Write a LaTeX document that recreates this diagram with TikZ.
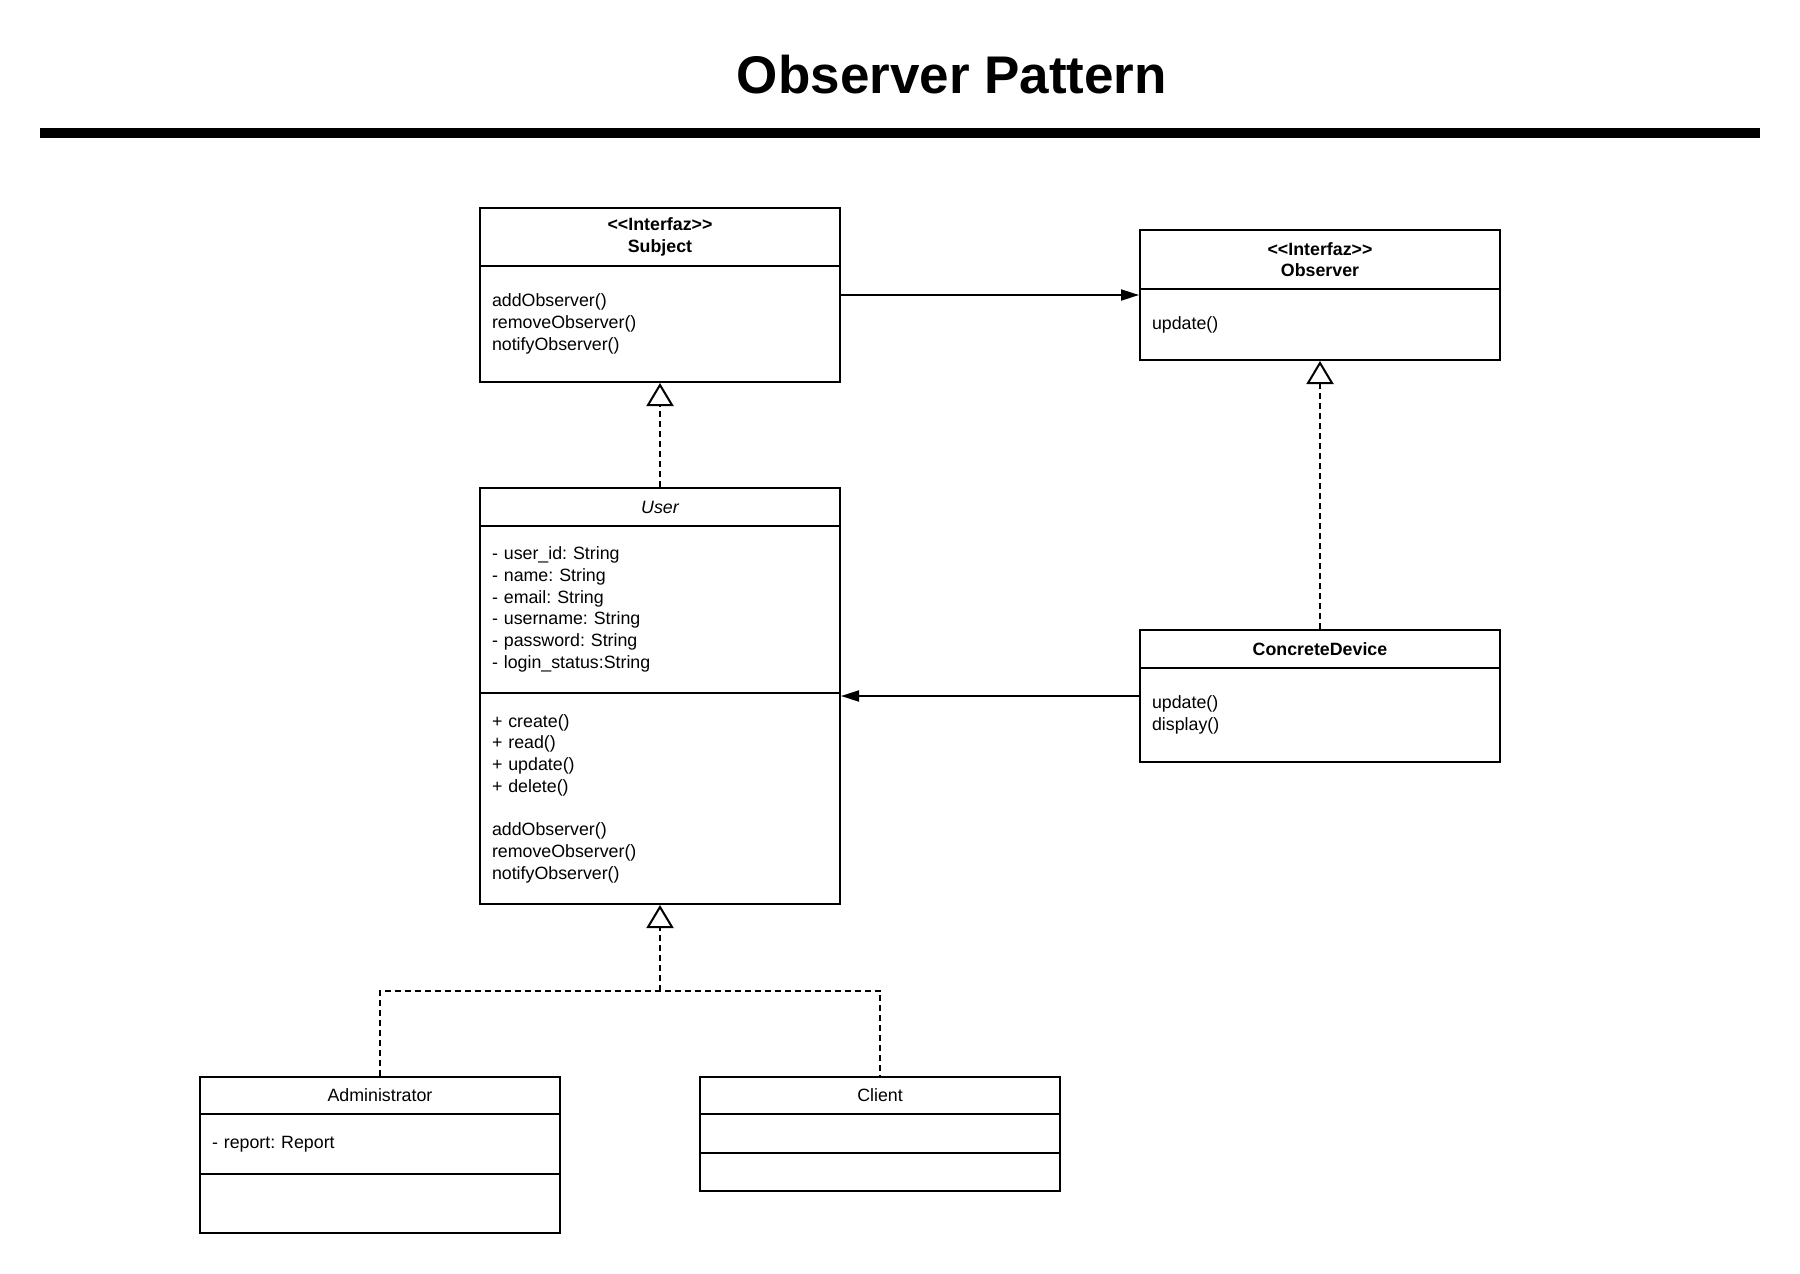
\documentclass[tikz,border=0pt]{standalone}
\usepackage{fontspec}
\setmainfont{Liberation Sans}
\usetikzlibrary{positioning,fit,calc,arrows.meta}
\frenchspacing
\newcommand{\umlfont}{\fontsize{17.8}{21.7}\selectfont}
\newcommand{\stereotype}[1]{<\kern0pt<#1>\kern0pt>}
\tikzset{
    classpart/.style={rectangle, draw, line width=2pt, inner xsep=12pt, inner ysep=0pt,
                outer sep=0pt, text width=336pt, font=\umlfont},
    classhead/.style={classpart, align=center},
    boldhead/.style={classhead, font=\umlfont\bfseries},
    classbody/.style={classpart, align=left},
    wrap/.style={inner sep=0pt, outer sep=1pt},
    titletext/.style={anchor=base, font=\fontsize{53}{60}\selectfont\bfseries},
    assoc/.style={line width=2pt, -{Triangle[length=18pt, width=11pt]}},
    realize/.style={line width=2pt, dash pattern=on 6pt off 4pt},
    realizetip/.style={realize, -{Triangle[open, length=23pt, width=27pt, fill=white]}},
}

\begin{document}
\begin{tikzpicture}[x=1pt, y=-1pt]
        \useasboundingbox (0,0) rectangle (1800,1274);
        \node[titletext] (title) at (952,93) {Observer Pattern};
        \draw[line width=10pt] (40,133) -- (1760,133);
        %
        % Interfaces
        \node[boldhead, anchor=north west, minimum height=58pt] (subjectH) at (480,208) {\stereotype{Interfaz}\\Subject};
        \node[classbody, minimum height=116pt, below=0pt of subjectH] (subjectM) {addObserver()\\removeObserver()\\notifyObserver()};
        \node[wrap, fit=(subjectH)(subjectM)] (subject) {};
        %
        \node[boldhead, anchor=north west, minimum height=59pt] (observerH) at (1140,230) {\stereotype{Interfaz}\\Observer};
        \node[classbody, minimum height=71pt, below=0pt of observerH] (observerM) {update()};
        \node[wrap, fit=(observerH)(observerM)] (observer) {};
        %
        % Concrete classes
        \node[classhead, anchor=north west, minimum height=38pt] (userH) at (480,488) {\itshape User};
        \node[classbody, minimum height=167pt, below=0pt of userH] (userA) {- user\_id: String\\- name: String\\- email: String\\- username: String\\- password: String\\- login\_status:String};
        \node[classbody, minimum height=211pt, below=0pt of userA] (userM) {+ create()\\+ read()\\+ update()\\+ delete()\\[21.7pt]addObserver()\\removeObserver()\\notifyObserver()};
        \node[wrap, fit=(userH)(userM)] (user) {};
        %
        \node[boldhead, anchor=north west, minimum height=38pt] (concreteH) at (1140,630) {ConcreteDevice};
        \node[classbody, minimum height=94pt, below=0pt of concreteH] (concreteM) {update()\\display()};
        \node[wrap, fit=(concreteH)(concreteM)] (concrete) {};
        %
        % Subclasses
        \node[classhead, anchor=north west, minimum height=37pt] (adminH) at (200,1077) {Administrator};
        \node[classbody, minimum height=60pt, below=0pt of adminH] (adminA) {- report: Report};
        \node[classbody, minimum height=59pt, below=0pt of adminA] (adminM) {};
        \node[wrap, fit=(adminH)(adminM)] (admin) {};
        %
        \node[classhead, anchor=north west, minimum height=37pt] (clientH) at (700,1077) {Client};
        \node[classbody, minimum height=39pt, below=0pt of clientH] (clientA) {};
        \node[classbody, minimum height=38pt, below=0pt of clientA] (clientM) {};
        \node[wrap, fit=(clientH)(clientM)] (client) {};
        %
        % Relations
        \draw[assoc] (subject) -- (observer);
        \draw[assoc] (concrete) -- (user);
        \draw[realizetip] (user.north) -- (subject.south);
        \draw[realizetip] (concrete.north) -- (observer.south);
        \coordinate (fork) at ($(user.south)!.5!(user.south |- admin.north)$);
        \draw[realize] (admin.north) |- (fork) -| (client.north);
        \draw[realizetip] (fork) -- (user.south);
\end{tikzpicture}
\end{document}
